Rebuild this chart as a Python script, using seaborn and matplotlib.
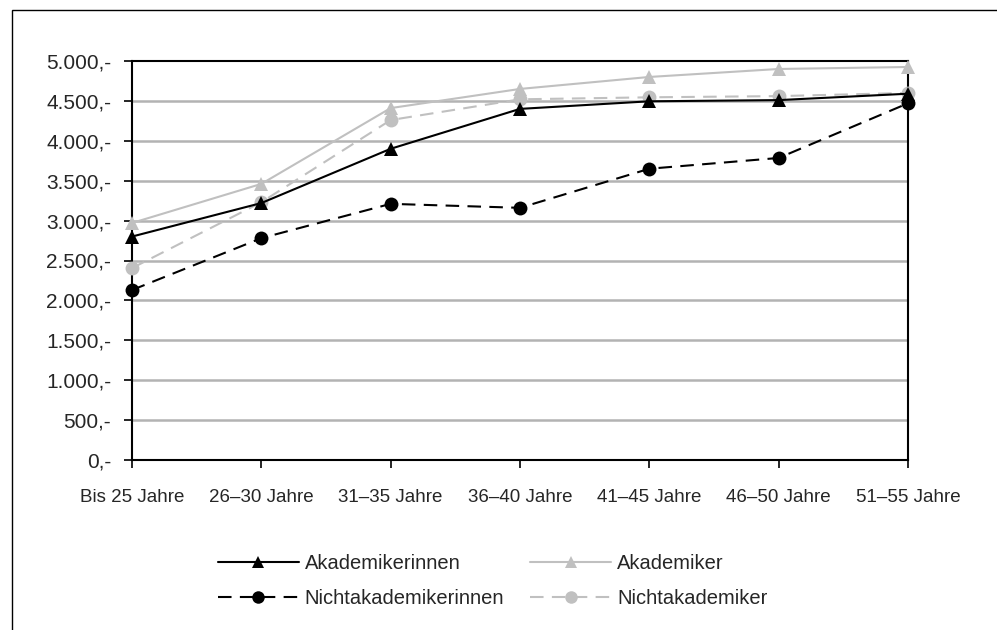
import numpy as np
import pandas as pd
import matplotlib.pyplot as plt
import seaborn as sb
from matplotlib.lines import Line2D
from matplotlib.patches import Rectangle

# values (Euro)
age_groups = ['Bis 25 Jahre', '26–30 Jahre', '31–35 Jahre', '36–40 Jahre',
              '41–45 Jahre', '46–50 Jahre', '51–55 Jahre']
akademikerinnen = [2800, 3220, 3900, 4400, 4495, 4510, 4590]
akademiker = [2970, 3460, 4410, 4650, 4800, 4900, 4925]
nichtakademikerinnen = [2130, 2780, 3210, 3160, 3650, 3785, 4470]
nichtakademiker = [2405, 3230, 4260, 4520, 4545, 4560, 4600]

series = ['Akademikerinnen', 'Akademiker', 'Nichtakademikerinnen', 'Nichtakademiker']
yticks = np.arange(0, 5001, 500)

df = pd.DataFrame({
    'Alter': age_groups * 4,
    'Gruppe': np.repeat(series, len(age_groups)),
    'Euro': akademikerinnen + akademiker + nichtakademikerinnen + nichtakademiker,
})
df['x'] = df['Alter'].map({a: i for i, a in enumerate(age_groups)})

sb.set_style('white')
plt.rcParams['font.family'] = ['Liberation Sans', 'DejaVu Sans']

colors = {'Akademikerinnen': 'black', 'Akademiker': '#c0c0c0',
          'Nichtakademikerinnen': 'black', 'Nichtakademiker': '#c0c0c0'}
markers = {'Akademikerinnen': '^', 'Akademiker': '^',
           'Nichtakademikerinnen': 'o', 'Nichtakademiker': 'o'}
dashes = {'Akademikerinnen': None, 'Akademiker': None,
          'Nichtakademikerinnen': (6.5, 4), 'Nichtakademiker': (6.5, 4)}

fig = plt.figure(figsize=(9.97, 6.30), dpi=100)
ax = fig.add_axes([132 / 997, 1 - 460 / 630, 776 / 997, 399 / 630])

# outer frame of the original graphic
fig.patches.append(Rectangle((12 / 997, -0.1), 1.2, 1 - 10 / 630 + 0.1,
                             transform=fig.transFigure, fill=False,
                             edgecolor='black', linewidth=1.0, zorder=0))

for y in yticks[1:-1]:
    ax.axhline(y, color='#b3b3b3', linewidth=1.8, zorder=1)

# light lines first so the black ones sit on top
for name in ['Akademiker', 'Nichtakademiker', 'Akademikerinnen', 'Nichtakademikerinnen']:
    sub = df[df['Gruppe'] == name]
    sb.lineplot(data=sub, x='x', y='Euro', ax=ax, color=colors[name],
                marker=markers[name], markersize=10, markeredgewidth=0,
                linewidth=1.5, legend=False, zorder=3)
    line = ax.lines[-1]
    line.set_clip_on(False)
    if dashes[name]:
        line.set_dashes(dashes[name])

ax.set_xlim(0, len(age_groups) - 1)
ax.set_ylim(0, 5000)
ax.set_xticks(range(len(age_groups)))
ax.set_xticklabels(age_groups)
ax.set_yticks(yticks)
ax.set_yticklabels([f'{v:,}'.replace(',', '.') + ',-' for v in yticks])
ax.set_xlabel('')
ax.set_ylabel('')
ax.tick_params(axis='both', which='both', direction='out', length=6, width=1.2,
               color='black', left=True, bottom=True)
ax.tick_params(axis='x', pad=15, labelsize=13.5)
ax.tick_params(axis='y', pad=9, labelsize=15)
for s in ax.spines.values():
    s.set_color('black')
    s.set_linewidth(1.5)

# legend filled row-wise like the original
order = ['Akademikerinnen', 'Nichtakademikerinnen', 'Akademiker', 'Nichtakademiker']
handles = [Line2D([], [], color=colors[n], marker=markers[n], markersize=9,
                  markeredgewidth=0, linewidth=1.5,
                  linestyle=(0, dashes[n]) if dashes[n] else '-') for n in order]
fig.legend(handles, order, ncol=2, loc='center left',
           bbox_to_anchor=(200 / 997, 1 - 581 / 630), frameon=False,
           fontsize=14.5, handlelength=4.0, handletextpad=0.3,
           columnspacing=1.3, labelspacing=0.75)

fig.savefig('out.png', dpi=100)
